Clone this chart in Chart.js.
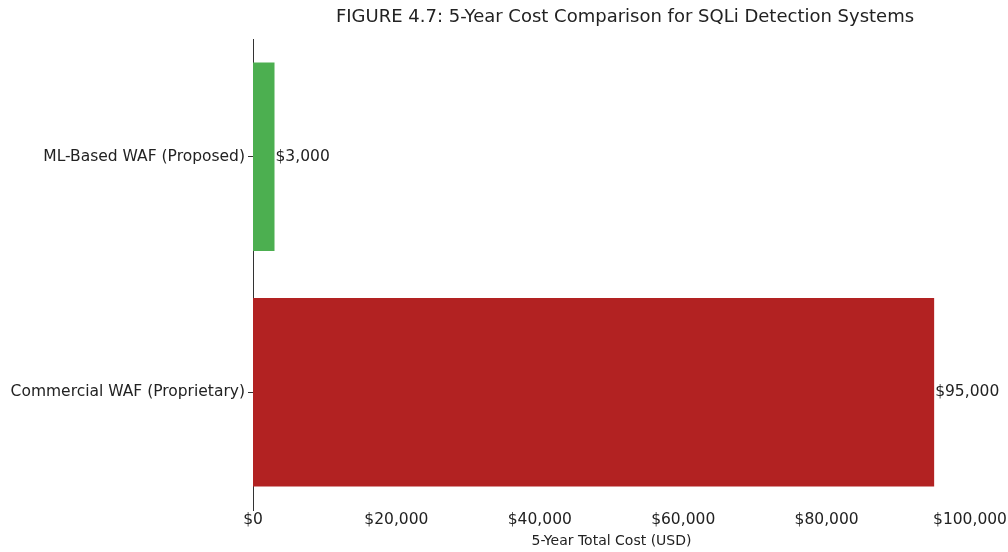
<!DOCTYPE html>
<html>
<head>
<meta charset="utf-8">
<script src="https://cdn.jsdelivr.net/npm/chart.js@4.4.1/dist/chart.umd.min.js"></script>
<style>
    html, body { margin: 0; padding: 0; background: #fff; }
    #wrap { width: 1008px; height: 552px; position: relative; }
</style>
</head>
<body>
<div id="wrap"><canvas id="myChartCost"></canvas></div>
<script>
var systems = ['ML-Based WAF (Proposed)', 'Commercial WAF (Proprietary)'];
var totalCost = [3000, 95000];
var barColors = ['#4caf50', '#b22222'];
var xTicks = [0, 20000, 40000, 60000, 80000, 100000];

var chartTitle = 'FIGURE 4.7: 5-Year Cost Comparison for SQLi Detection Systems';
var axisFont = "'DejaVu Sans', sans-serif";

function money(v) {
    return '$' + Number(v).toLocaleString('en-US');
}

// title sits over the plot area, not the canvas
var titlePlugin = {
    id: 'figTitle',
    afterDraw: function (chart) {
        var ctx = chart.ctx;
        ctx.save();
        ctx.font = "18px 'DejaVu Sans', sans-serif";
        ctx.fillStyle = '#222';
        ctx.textAlign = 'center';
        ctx.textBaseline = 'middle';
        ctx.fillText(chartTitle, 625, 17);
        ctx.restore();
    }
};

// value text at the end of each bar
var valuePlugin = {
    id: 'barValues',
    afterDatasetsDraw: function (chart) {
        var ctx = chart.ctx;
        var meta = chart.getDatasetMeta(0);
        ctx.save();
        ctx.font = "15.5px " + axisFont;
        ctx.fillStyle = '#222';
        ctx.textAlign = 'left';
        ctx.textBaseline = 'middle';
        meta.data.forEach(function (bar, i) {
            ctx.fillText(money(chart.data.datasets[0].data[i]), bar.x + 1, bar.y);
        });
        ctx.restore();
    }
};

const ctx = document.getElementById('myChartCost');
const myChart = new Chart(ctx, {
    type: 'bar',
    data: {
        labels: systems,
        datasets: [{
            label: '5-Year Total Cost',
            data: totalCost,
            backgroundColor: barColors,
            borderWidth: 0,
            barPercentage: 1.0,
            categoryPercentage: 0.8
        }]
    },
    options: {
        indexAxis: 'y',
        responsive: true,
        maintainAspectRatio: false,
        animation: false,
        layout: {
            padding: { top: 39, right: 38, left: 0, bottom: 0 }
        },
        plugins: {
            legend: { display: false },
            tooltip: { enabled: false }
        },
        scales: {
            x: {
                min: 0,
                max: 100000,
                afterBuildTicks: function (scale) {
                    scale.ticks = xTicks.map(function (v) { return { value: v }; });
                },
                afterFit: function (scale) { scale.height = 42; },
                grid: { display: false, drawTicks: false },
                border: { display: false },
                ticks: {
                    color: '#222',
                    font: { family: axisFont, size: 15.5 },
                    padding: 1,
                    maxRotation: 0,
                    callback: function (v) { return money(v); }
                },
                title: {
                    display: true,
                    text: '5-Year Total Cost (USD)',
                    color: '#222',
                    font: { family: axisFont, size: 14 },
                    padding: { top: 0, bottom: 2 }
                }
            },
            y: {
                afterFit: function (scale) { scale.width = 253; },
                grid: {
                    display: true,
                    offset: false,
                    drawOnChartArea: false,
                    drawTicks: true,
                    tickLength: 5,
                    color: '#333'
                },
                border: { display: true, color: '#333', width: 1 },
                ticks: {
                    color: '#222',
                    font: { family: axisFont, size: 15.5 },
                    padding: 3
                }
            }
        }
    },
    plugins: [titlePlugin, valuePlugin]
});
</script>
</body>
</html>
